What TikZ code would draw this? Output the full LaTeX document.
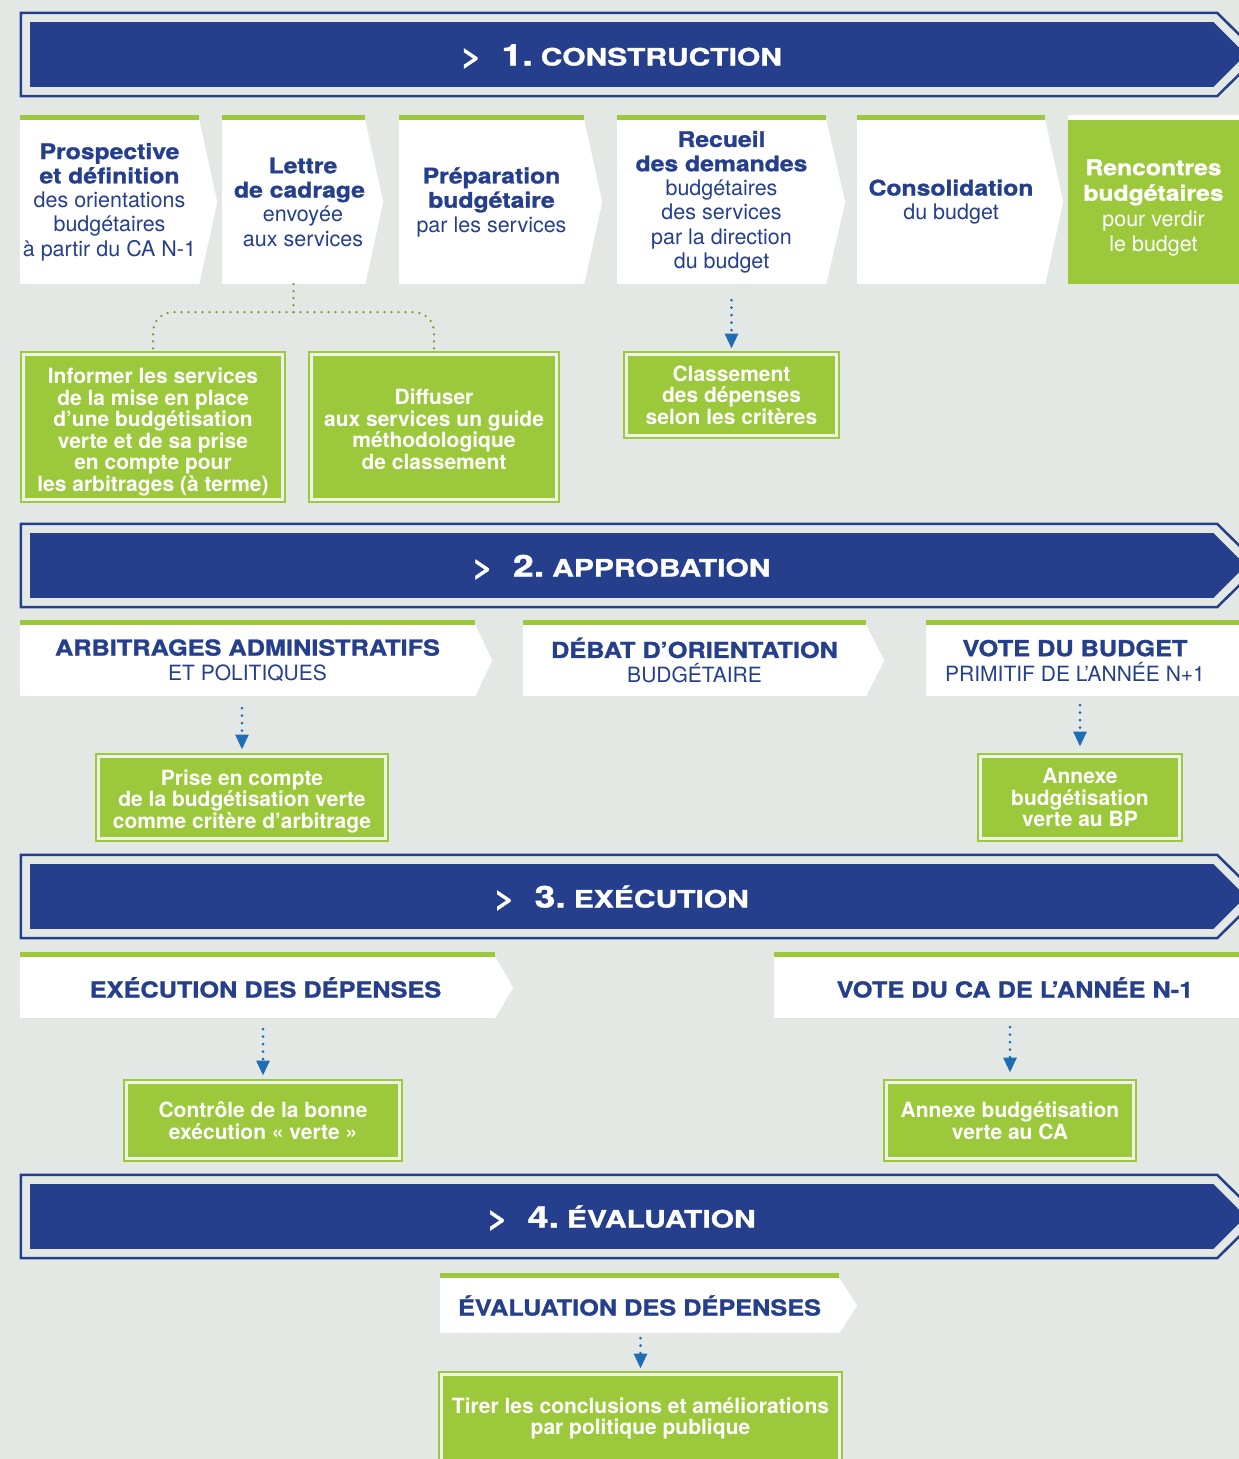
\documentclass[tikz,border=0pt]{standalone}
\usepackage{fontspec}
\setmainfont{TeX Gyre Heros}
\newfontfamily\titlefont[FakeStretch=1.15,BoldFeatures={FakeBold=1.2}]{TeX Gyre Heros}
\newfontfamily\bandfont[FakeStretch=1.25,BoldFeatures={FakeBold=1.2}]{TeX Gyre Heros}
\usetikzlibrary{arrows.meta,positioning}

\definecolor{bgcol}{HTML}{E3E8E5}
\definecolor{navy}{HTML}{253F8C}
\definecolor{leaf}{HTML}{9BC93B}
\definecolor{gapcol}{HTML}{EEF2E8}
\definecolor{arrowblue}{HTML}{1F6DB5}

\newcommand{\ttl}[1]{{\titlefont\bfseries #1}}
\newcommand{\rowttl}[1]{{\titlefont\bfseries\fontsize{22}{25}\selectfont #1}}
\newcommand{\topstrut}[1]{\rule{0pt}{#1pt}}
\newcommand{\bandtitle}[2]{{\fontsize{28}{28}\selectfont >}\hspace{20pt}{\fontsize{30}{30}\selectfont #1.}\hspace{8pt}#2}

\begin{document}
\begin{tikzpicture}[x=1pt,y=-1pt,
    band/.style={fill=navy,inner sep=0pt,minimum width=1183pt,minimum height=65pt,
      text height=22pt,text depth=0pt,
      text=white,font=\bandfont\bfseries\fontsize{24}{24}\selectfont},
    bandline/.style={draw=navy,line width=2.5pt},
    stepbox/.style={fill=white,inner sep=0pt,align=center,text=navy},
    greenbox/.style={fill=leaf,draw=leaf,double=gapcol,double distance=3pt,line width=2pt,
      inner sep=0pt,align=center,text=white,font=\bfseries\fontsize{21}{21.5}\selectfont},
    barrow/.style={draw=arrowblue,line width=3pt,line cap=round,dash pattern=on 0pt off 7.5pt,
      -{Triangle[length=15pt,width=13pt]}},
    gdots/.style={draw=leaf!75!black,line width=2.5pt,line cap=round,
      dash pattern=on 0pt off 7pt,rounded corners=20pt}]

  \useasboundingbox (0,0) rectangle (1239,1459);
  \clip (0,0) rectangle (1239,1459);
  \fill[bgcol] (0,0) rectangle (1239,1459);

  % phase bands
  \node[band] (b1) at (621.5,54.5)   {\bandtitle{1}{CONSTRUCTION}};
  \node[band] (b2) at (621.5,565.5)  {\bandtitle{2}{APPROBATION}};
  \node[band] (b3) at (621.5,896.5)  {\bandtitle{3}{EXÉCUTION}};
  \node[band] (b4) at (621.5,1216.5) {\bandtitle{4}{ÉVALUATION}};

  \fill[navy] (b1.north east) -- ([xshift=32.5pt]b1.east) -- (b1.south east) -- cycle;
  \fill[navy] (b2.north east) -- ([xshift=32.5pt]b2.east) -- (b2.south east) -- cycle;
  \fill[navy] (b3.north east) -- ([xshift=32.5pt]b3.east) -- (b3.south east) -- cycle;
  \fill[navy] (b4.north east) -- ([xshift=32.5pt]b4.east) -- (b4.south east) -- cycle;

  \draw[bandline] ([shift={(-9,-9)}]b1.north west) -- ([shift={(4,-9)}]b1.north east)
    -- ([xshift=46pt]b1.east) -- ([shift={(4,9)}]b1.south east) -- ([shift={(-9,9)}]b1.south west) -- cycle;
  \draw[bandline] ([shift={(-9,-9)}]b2.north west) -- ([shift={(4,-9)}]b2.north east)
    -- ([xshift=46pt]b2.east) -- ([shift={(4,9)}]b2.south east) -- ([shift={(-9,9)}]b2.south west) -- cycle;
  \draw[bandline] ([shift={(-9,-9)}]b3.north west) -- ([shift={(4,-9)}]b3.north east)
    -- ([xshift=46pt]b3.east) -- ([shift={(4,9)}]b3.south east) -- ([shift={(-9,9)}]b3.south west) -- cycle;
  \draw[bandline] ([shift={(-9,-9)}]b4.north west) -- ([shift={(4,-9)}]b4.north east)
    -- ([xshift=46pt]b4.east) -- ([shift={(4,9)}]b4.south east) -- ([shift={(-9,9)}]b4.south west) -- cycle;

  % 1. construction
  \begin{scope}[every node/.style={stepbox,minimum height=164pt,font=\fontsize{21.5}{24.3}\selectfont}]
    \node[minimum width=179pt] (c1) at (109.5,202)
      {\ttl{Prospective}\\\ttl{et définition}\\des orientations\\budgétaires\\à partir du CA N-1};
    \node[minimum width=143pt] (c2) at (293.5,202)
      {\hspace*{19pt}\ttl{Lettre}\\\hspace*{12pt}\ttl{de cadrage}\\\hspace*{19pt}envoyée\\\hspace*{19pt}aux services};
    \node[minimum width=185pt] (c3) at (491.5,202)
      {\ttl{Préparation}\\\ttl{budgétaire}\\par les services};
    \node[minimum width=209pt] (c4) at (721.5,202)
      {\ttl{Recueil}\\\ttl{des demandes}\\budgétaires\\des services\\par la direction\\du budget};
    \node[minimum width=188pt] (c5) at (951,202)
      {\ttl{Consolidation}\\du budget};
    \node[minimum width=171pt,fill=leaf,text=white,font=\fontsize{21.5}{25.5}\selectfont] (c6) at (1153.5,202)
      {\topstrut{27.5}\ttl{Rencontres}\\\ttl{budgétaires}\\pour verdir\\le budget};
  \end{scope}

  \fill[white] (c1.north east) -- ([xshift=18pt]c1.east) -- (c1.south east) -- cycle;
  \fill[white] (c2.north east) -- ([xshift=18pt]c2.east) -- (c2.south east) -- cycle;
  \fill[white] (c3.north east) -- ([xshift=18pt]c3.east) -- (c3.south east) -- cycle;
  \fill[white] (c4.north east) -- ([xshift=19pt]c4.east) -- (c4.south east) -- cycle;
  \fill[white] (c5.north east) -- ([xshift=18pt]c5.east) -- (c5.south east) -- cycle;
  \fill[leaf] (c1.north west) rectangle ([yshift=5pt]c1.north east);
  \fill[leaf] (c2.north west) rectangle ([yshift=5pt]c2.north east);
  \fill[leaf] (c3.north west) rectangle ([yshift=5pt]c3.north east);
  \fill[leaf] (c4.north west) rectangle ([yshift=5pt]c4.north east);
  \fill[leaf] (c5.north west) rectangle ([yshift=5pt]c5.north east);
  \fill[white] (c6.north west) rectangle ([yshift=5pt]c6.north east);

  \begin{scope}[every node/.style={greenbox}]
    \node[minimum width=259pt,minimum height=145pt] (inf) at (153,427)
      {\topstrut{25.5}Informer les services\\de la mise en place\\d’une budgétisation\\verte et de sa prise\\en compte pour\\les arbitrages (à terme)};
    \node[minimum width=245pt,minimum height=145pt] (dif) at (434,427)
      {\topstrut{20}Diffuser\\aux services un guide\\méthodologique\\de classement};
    \node[minimum width=210pt,minimum height=81pt] (cls) at (731.5,395)
      {Classement\\des dépenses\\selon les critères};
  \end{scope}

  \coordinate[below=28pt of c2] (split);
  \draw[gdots] (c2.south) -- (split);
  \draw[gdots] (split) -| (inf.north);
  \draw[gdots] (split) -| (dif.north);
  \draw[barrow,shorten <=16pt,shorten >=5pt] (cls.north |- c4.south) -- (cls.north);

  % 2. approbation
  \begin{scope}[every node/.style={stepbox,minimum height=71pt,font=\fontsize{21}{25}\selectfont}]
    \node[minimum width=455pt] (a1) at (247.5,660.5)
      {\rowttl{ARBITRAGES ADMINISTRATIFS}\\ET POLITIQUES};
    \node[minimum width=343pt] (a2) at (694.5,660.5)
      {\rowttl{DÉBAT D’ORIENTATION}\\BUDGÉTAIRE};
    \node[minimum width=298pt] (a3) at (1075,660.5)
      {\rowttl{VOTE DU BUDGET}\\PRIMITIF DE L’ANNÉE N+1};
  \end{scope}

  \fill[white] (a1.north east) -- ([xshift=17pt]a1.east) -- (a1.south east) -- cycle;
  \fill[white] (a2.north east) -- ([xshift=18pt]a2.east) -- (a2.south east) -- cycle;
  \fill[white] (a3.north east) rectangle ([xshift=20pt]a3.south east);
  \fill[leaf] (a1.north west) rectangle ([yshift=5pt]a1.north east);
  \fill[leaf] (a2.north west) rectangle ([yshift=5pt]a2.north east);
  \fill[leaf] (a3.north west) rectangle ([shift={(20pt,5pt)}]a3.north east);

  \begin{scope}[every node/.style={greenbox}]
    \node[minimum width=287pt,minimum height=82pt] (prise) at (242,797.5)
      {\topstrut{23}Prise en compte\\de la budgétisation verte\\comme critère d’arbitrage};
    \node[minimum width=199pt,minimum height=82pt] (abp) at (1080,797.5)
      {Annexe\\budgétisation\\verte au BP};
  \end{scope}

  \draw[barrow,shorten <=12pt,shorten >=6pt] (prise.north |- a1.south) -- (prise.north);
  \draw[barrow,shorten <=9pt,shorten >=9pt] (abp.north |- a3.south) -- (abp.north);

  % 3. execution
  \begin{scope}[every node/.style={stepbox,minimum height=61pt,font=\fontsize{21}{25}\selectfont}]
    \node[minimum width=475pt] (e1) at (257.5,987.5) {\hspace*{16pt}\rowttl{EXÉCUTION DES DÉPENSES}};
    \node[minimum width=482pt] (e2) at (1015,987.5) {\rowttl{VOTE DU CA DE L’ANNÉE N-1}};
  \end{scope}

  \fill[white] (e1.north east) -- ([xshift=18pt]e1.east) -- (e1.south east) -- cycle;
  \fill[leaf] (e1.north west) rectangle ([yshift=5pt]e1.north east);
  \fill[leaf] (e2.north west) rectangle ([yshift=5pt]e2.north east);

  \begin{scope}[every node/.style={greenbox}]
    \node[minimum width=273pt,minimum height=76pt] (ctrl) at (263,1120.5)
      {Contrôle de la bonne\\exécution « verte »};
    \node[minimum width=247pt,minimum height=76pt] (aca) at (1010,1120.5)
      {Annexe budgétisation\\verte au CA};
  \end{scope}

  \draw[barrow,shorten <=11pt,shorten >=6pt] (ctrl.north |- e1.south) -- (ctrl.north);
  \draw[barrow,shorten <=9pt,shorten >=9pt] (aca.north |- e2.south) -- (aca.north);

  % 4. evaluation
  \node[stepbox,minimum height=55pt,minimum width=399pt,font=\fontsize{21}{25}\selectfont] (v1) at (639.5,1305.5)
    {\rowttl{ÉVALUATION DES DÉPENSES}};
  \fill[white] (v1.north east) -- ([xshift=18pt]v1.east) -- (v1.south east) -- cycle;
  \fill[leaf] (v1.north west) rectangle ([yshift=5pt]v1.north east);

  \node[greenbox,minimum width=398pt,minimum height=88pt] (tirer) at (640.5,1418.5)
    {Tirer les conclusions et améliorations\\par politique publique};
  \draw[barrow,shorten <=5pt,shorten >=5pt] (tirer.north |- v1.south) -- (tirer.north);

\end{tikzpicture}
\end{document}
